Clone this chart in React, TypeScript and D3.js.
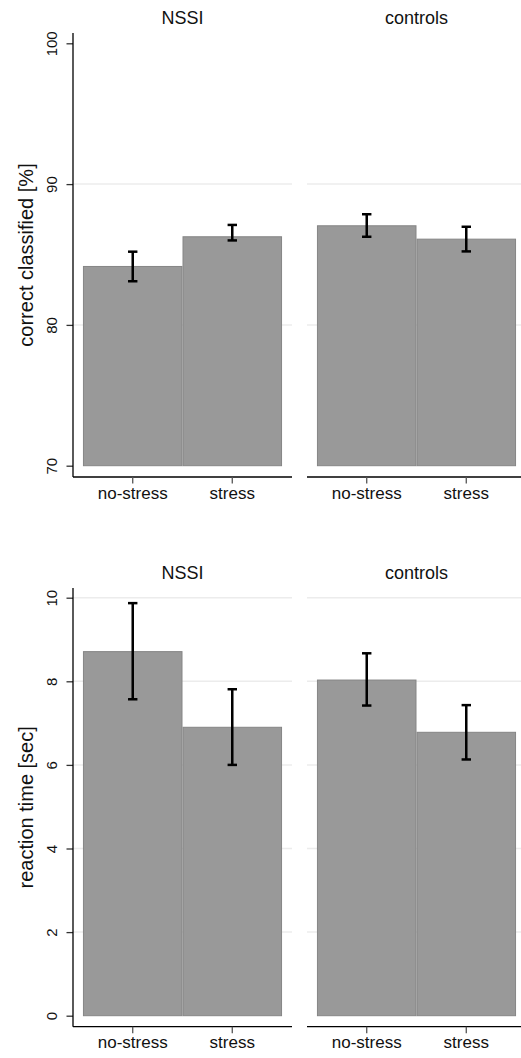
import React, { useRef, useEffect } from 'react'
import * as d3 from 'd3'

// Two stacked panels (accuracy, reaction time), each split by group.
const groups = ['NSSI', 'controls']
const conditions = ['no-stress', 'stress']

const accMean = [[84.15, 86.26], [87.04, 86.09]]
const accLo = [[83.1, 86.0], [86.26, 85.22]]
const accHi = [[85.2, 87.1], [87.86, 86.97]]
const accTicks = [70, 80, 90, 100]
const accGrid = [80, 90]

const rtMean = [[8.71, 6.9], [8.03, 6.78]]
const rtLo = [[7.57, 6.0], [7.42, 6.13]]
const rtHi = [[9.87, 7.81], [8.67, 7.43]]
const rtTicks = [0, 2, 4, 6, 8, 10]
const rtGrid = [2, 4, 6, 8, 10]

const W = 521
const H = 1058
const FONT = '"Liberation Sans", Arial, sans-serif'

export default function App() {
  const svgRef = useRef<SVGSVGElement>(null)

  useEffect(() => {
    const svg = d3.select(svgRef.current)
    svg.selectAll('*').remove()
    svg.append('rect').attr('width', W).attr('height', H).attr('fill', '#fff')

    const panelX = [[73, 292], [307, 526]]

    const drawRow = (opts) => {
      const { top, bottom, yDomain, yRange, ticks, grid, mean, lo, hi, label } = opts
      const y = d3.scaleLinear().domain(yDomain).range(yRange)

      groups.forEach((grp, gi) => {
        const [x0, x1] = panelX[gi]
        const x = d3.scaleBand().domain(conditions).range([x0, x1]).paddingInner(0).paddingOuter(0.1)
        const g = svg.append('g')

        // grid
        grid.forEach((v) => {
          g.append('line')
            .attr('x1', x0).attr('x2', x1)
            .attr('y1', y(v)).attr('y2', y(v))
            .attr('stroke', '#ececec').attr('stroke-width', 1.5)
        })

        // bars
        conditions.forEach((c, ci) => {
          g.append('rect')
            .attr('x', x(c) + 0.5)
            .attr('y', y(mean[gi][ci]))
            .attr('width', x.bandwidth() - 1)
            .attr('height', y(yDomain[0]) - y(mean[gi][ci]))
            .attr('fill', '#999999')
            .attr('stroke', '#858585')
            .attr('stroke-width', 1)
        })

        // error bars
        conditions.forEach((c, ci) => {
          const cx = x(c) + x.bandwidth() / 2
          const yl = y(lo[gi][ci])
          const yh = y(hi[gi][ci])
          g.append('line').attr('x1', cx).attr('x2', cx).attr('y1', yh).attr('y2', yl)
            .attr('stroke', '#000').attr('stroke-width', 2.5)
          ;[yl, yh].forEach((yy) => {
            g.append('line').attr('x1', cx - 4.7).attr('x2', cx + 4.7).attr('y1', yy).attr('y2', yy)
              .attr('stroke', '#000').attr('stroke-width', 2.5)
          })
        })

        // x axis
        g.append('line').attr('x1', x0).attr('x2', x1).attr('y1', bottom).attr('y2', bottom)
          .attr('stroke', '#000').attr('stroke-width', 1.3)
        conditions.forEach((c) => {
          const cx = x(c) + x.bandwidth() / 2
          g.append('line').attr('x1', cx).attr('x2', cx).attr('y1', bottom).attr('y2', bottom + 6.5)
            .attr('stroke', '#555').attr('stroke-width', 1.3)
          g.append('text').attr('x', cx).attr('y', bottom + 21.5)
            .attr('text-anchor', 'middle').attr('fill', '#111')
            .style('font-family', FONT).style('font-size', '17px')
            .text(c)
        })

        // panel title
        g.append('text').attr('x', (x0 + x1) / 2).attr('y', top - 9)
          .attr('text-anchor', 'middle').attr('fill', '#111')
          .style('font-family', FONT).style('font-size', '18px')
          .text(grp)

        // y axis only on first panel
        if (gi === 0) {
          const ax = svg.append('g').attr('transform', `translate(${x0}, 0)`)
            .call(d3.axisLeft(y).tickValues(ticks).tickSize(6.5).tickSizeOuter(0).tickFormat((d) => `${d}`))
          ax.select('.domain').remove()
          ax.selectAll('.tick line').attr('stroke', '#333').attr('stroke-width', 1.3)
          ax.selectAll('.tick text')
            .attr('x', null).attr('dy', null)
            .attr('transform', 'translate(-16, 0) rotate(-90)')
            .attr('text-anchor', 'middle')
            .attr('fill', '#111')
            .style('font-family', FONT).style('font-size', '15px')
          ax.append('line').attr('x1', 0).attr('x2', 0).attr('y1', top).attr('y2', bottom)
            .attr('stroke', '#000').attr('stroke-width', 1.3)

          svg.append('text')
            .attr('transform', `translate(33, ${(top + bottom) / 2}) rotate(-90)`)
            .attr('text-anchor', 'middle').attr('fill', '#111')
            .style('font-family', FONT).style('font-size', '20px')
            .text(label)
        }
      })
    }

    drawRow({
      top: 33, bottom: 477, yDomain: [70, 100], yRange: [465.7, 43.3],
      ticks: accTicks, grid: accGrid, mean: accMean, lo: accLo, hi: accHi,
      label: 'correct classified [%]',
    })
    drawRow({
      top: 588, bottom: 1026.7, yDomain: [0, 10], yRange: [1015.7, 597.7],
      ticks: rtTicks, grid: rtGrid, mean: rtMean, lo: rtLo, hi: rtHi,
      label: 'reaction time [sec]',
    })
  }, [])

  return (
    <svg ref={svgRef} width={W} height={H} style={{ position: 'absolute', left: 0, top: 0 }} />
  )
}
